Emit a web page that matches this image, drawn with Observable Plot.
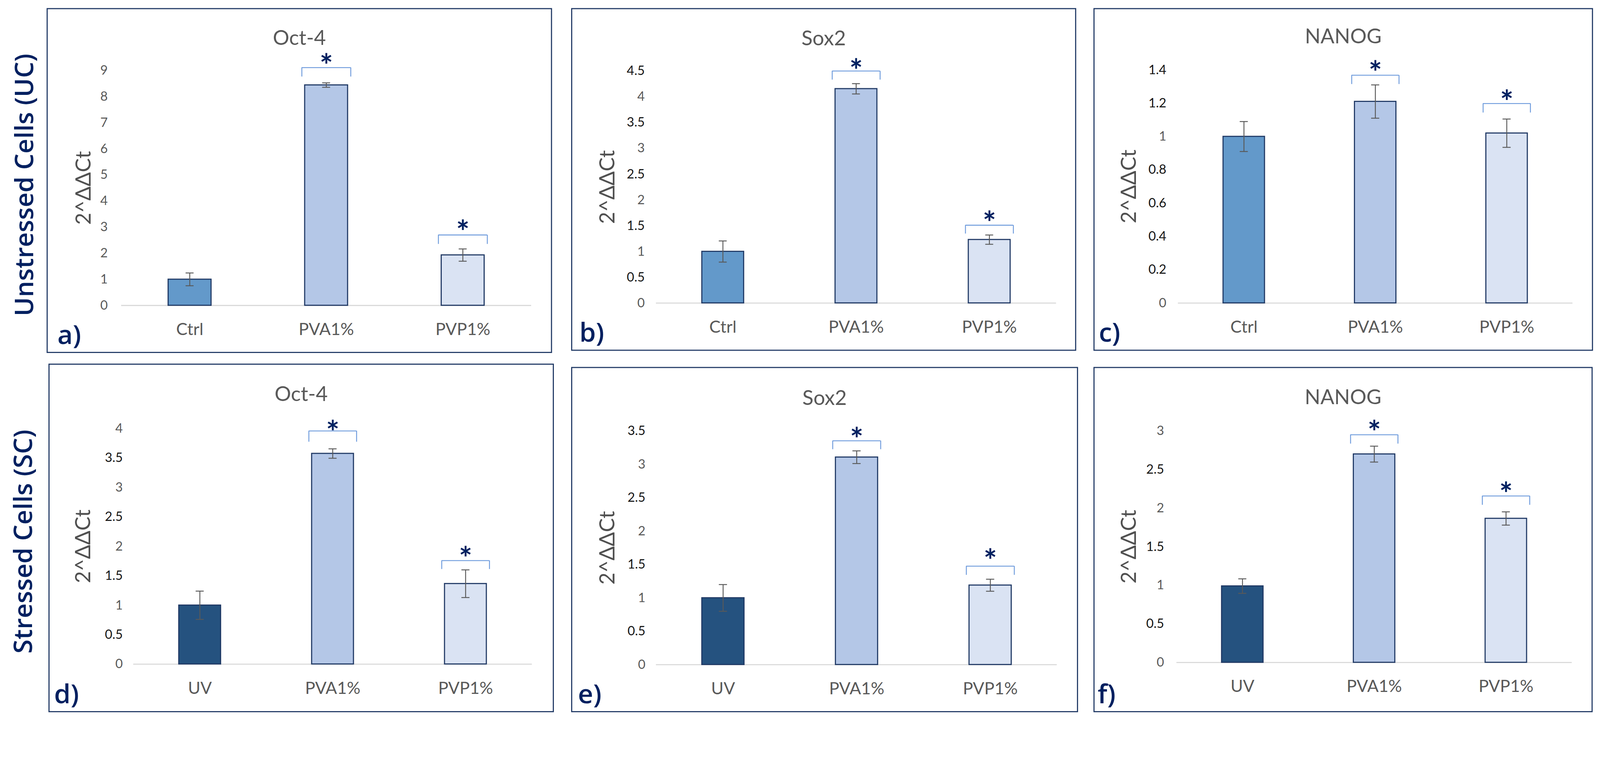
<!DOCTYPE html>
<html>
<head>
<meta charset="utf-8">
<script src="https://cdn.jsdelivr.net/npm/d3@7"></script>
<script src="https://cdn.jsdelivr.net/npm/@observablehq/plot@0.6"></script>
<style>
  html, body { margin: 0; padding: 0; background: #fff; overflow: hidden; }
  #root { position: absolute; left: 0; top: 0; width: 4359px; height: 1977px; background: #fff; overflow: hidden; transform-origin: 0 0; }
  .panel { position: absolute; }
  .panel svg { display: block; max-width: none !important; }
  .frame { position: absolute; box-sizing: border-box; border: 3px solid #1F3864; pointer-events: none; }
  .rowlabel { position: absolute; font-family: "Open Sans", sans-serif; font-weight: 600; color: #002060; font-size: 70px;
              white-space: nowrap; line-height: 1; transform: translate(-50%, -50%) rotate(-90deg); }
</style>
</head>
<body>
<div id="root"></div>
<script>
// ---------------- data ----------------
const genes = ["Oct-4", "Sox2", "NANOG"];
const rowLabels = ["Unstressed Cells (UC)", "Stressed Cells (SC)"];
const panelLetters = ["a)", "b)", "c)", "d)", "e)", "f)"];
const ucGroups = ["Ctrl", "PVA1%", "PVP1%"];
const scGroups = ["UV", "PVA1%", "PVP1%"];
const sigGroups = ["PVA1%", "PVP1%"];
const yLabel = "2^ΔΔCt";
const starText = "*";

// Unstressed cells (UC)
const octUC = [1.0, 8.44, 1.93];
const octUCErr = [0.245, 0.085, 0.235];
const sox2UC = [1.0, 4.155, 1.23];
const sox2UCErr = [0.205, 0.10, 0.09];
const nanogUC = [1.0, 1.21, 1.02];
const nanogUCErr = [0.09, 0.10, 0.085];

// Stressed cells (SC)
const octSC = [1.0, 3.576, 1.366];
const octSCErr = [0.24, 0.08, 0.235];
const sox2SC = [1.0, 3.107, 1.19];
const sox2SCErr = [0.20, 0.095, 0.09];
const nanogSC = [0.99, 2.70, 1.866];
const nanogSCErr = [0.094, 0.103, 0.086];

// significance brackets (top, leg bottom) and asterisk levels, for PVA1% and PVP1%
const octUCBracket = [9.11, 2.70];   const octUCBracketLow = [8.76, 2.35];   const octUCStar = [9.41, 3.03];
const sox2UCBracket = [4.50, 1.51];  const sox2UCBracketLow = [4.33, 1.345]; const sox2UCStar = [4.62, 1.668];
const nanogUCBracket = [1.368, 1.198]; const nanogUCBracketLow = [1.314, 1.143]; const nanogUCStar = [1.419, 1.242];
const octSCBracket = [3.96, 1.758];  const octSCBracketLow = [3.774, 1.612]; const octSCStar = [4.036, 1.895];
const sox2SCBracket = [3.352, 1.475]; const sox2SCBracketLow = [3.224, 1.343]; const sox2SCStar = [3.459, 1.642];
const nanogSCBracket = [2.951, 2.158]; const nanogSCBracketLow = [2.834, 2.041]; const nanogSCStar = [3.056, 2.26];

// y-axis ticks
const octUCTicks = [0, 1, 2, 3, 4, 5, 6, 7, 8, 9];
const sox2UCTicks = [0, 0.5, 1, 1.5, 2, 2.5, 3, 3.5, 4, 4.5];
const nanogUCTicks = [0, 0.2, 0.4, 0.6, 0.8, 1, 1.2, 1.4];
const octSCTicks = [0, 0.5, 1, 1.5, 2, 2.5, 3, 3.5, 4];
const sox2SCTicks = [0, 0.5, 1, 1.5, 2, 2.5, 3, 3.5];
const nanogSCTicks = [0, 0.5, 1, 1.5, 2, 2.5, 3];

// ---------------- styles ----------------
const ucColors = ["#6399CA", "#B4C7E7", "#DAE3F3"];
const scColors = ["#25527F", "#B4C7E7", "#DAE3F3"];
const gray = "#595959";

// ---------------- layout (pixels) ----------------
const layouts = [
  {x: 128,  y: 23,   w: 1374, h: 937, ml: 202, mr: 55, mt: 168.5, mb: 128,   tp: 37, ylx: 100, ty: 80.5, lx: 28},
  {x: 1557, y: 23,   w: 1373, h: 931, ml: 230, mr: 53, mt: 170,   mb: 128.5, tp: 31, ylx: 98,  ty: 81.5, lx: 21},
  {x: 2980, y: 23,   w: 1358, h: 931, ml: 229, mr: 54, mt: 167,   mb: 128.5, tp: 32, ylx: 96,  ty: 77,   lx: 13},
  {x: 133,  y: 992,  w: 1374, h: 947, ml: 230, mr: 58, mt: 175.5, mb: 129.5, tp: 29, ylx: 94,  ty: 83,   lx: 14},
  {x: 1557, y: 1001, w: 1378, h: 938, ml: 230, mr: 56, mt: 173,   mb: 128,   tp: 29, ylx: 98,  ty: 84,   lx: 17},
  {x: 2980, y: 1001, w: 1357, h: 938, ml: 225, mr: 55, mt: 173,   mb: 134,   tp: 34, ylx: 96,  ty: 82,   lx: 10}
];

const panels = [
  {title: genes[0], groups: ucGroups, colors: ucColors, values: octUC,   errs: octUCErr,   top: octUCBracket,   low: octUCBracketLow,   star: octUCStar,   ticks: octUCTicks},
  {title: genes[1], groups: ucGroups, colors: ucColors, values: sox2UC,  errs: sox2UCErr,  top: sox2UCBracket,  low: sox2UCBracketLow,  star: sox2UCStar,  ticks: sox2UCTicks},
  {title: genes[2], groups: ucGroups, colors: ucColors, values: nanogUC, errs: nanogUCErr, top: nanogUCBracket, low: nanogUCBracketLow, star: nanogUCStar, ticks: nanogUCTicks},
  {title: genes[0], groups: scGroups, colors: scColors, values: octSC,   errs: octSCErr,   top: octSCBracket,   low: octSCBracketLow,   star: octSCStar,   ticks: octSCTicks},
  {title: genes[1], groups: scGroups, colors: scColors, values: sox2SC,  errs: sox2SCErr,  top: sox2SCBracket,  low: sox2SCBracketLow,  star: sox2SCStar,  ticks: sox2SCTicks},
  {title: genes[2], groups: scGroups, colors: scColors, values: nanogSC, errs: nanogSCErr, top: nanogSCBracket, low: nanogSCBracketLow, star: nanogSCStar, ticks: nanogSCTicks}
];

const root = document.getElementById("root");
const PAD_INNER = 0.685;

panels.forEach((p, k) => {
  const L = layouts[k];
  const rows = p.groups.map((g, i) => ({group: g, value: p.values[i], err: p.errs[i], color: p.colors[i]}));
  const sig = sigGroups.map((g, i) => ({group: g, top: p.top[i], low: p.low[i], star: p.star[i]}));
  const plotW = L.w - L.ml - L.mr;
  const step = plotW / p.groups.length;
  const bw = step * (1 - PAD_INNER);
  const legOff = bw / 2 + 8;
  const capInset = (bw - 22) / 2;
  const ymax = p.ticks[p.ticks.length - 1];
  const intTicks = p.ticks.filter(t => Number.isInteger(t));
  const fracTicks = p.ticks.filter(t => !Number.isInteger(t));
  const tickOpts = {tickSize: 0, tickPadding: L.tp, fontSize: 35, tickFormat: d => String(d), label: null};
  const bracketColor = "#6E9BDC";

  const svg = Plot.plot({
    width: L.w, height: L.h,
    marginLeft: L.ml, marginRight: L.mr, marginTop: L.mt, marginBottom: L.mb,
    style: {fontFamily: "Lato, sans-serif", background: "transparent", overflow: "visible", color: gray, maxWidth: "none"},
    x: {type: "band", domain: p.groups, paddingInner: PAD_INNER, paddingOuter: PAD_INNER / 2},
    y: {domain: [0, ymax]},
    color: {type: "identity"},
    marks: [
      Plot.ruleY([0], {stroke: "#D9D9D9", strokeWidth: 3}),
      Plot.barY(rows, {x: "group", y: "value", fill: "color", stroke: "#1F3864", strokeWidth: 3}),
      Plot.ruleX(rows, {x: "group", y1: d => d.value - d.err, y2: d => d.value + d.err, stroke: gray, strokeWidth: 2.5}),
      Plot.tickY(rows, {x: "group", y: d => d.value + d.err, insetLeft: capInset, insetRight: capInset, stroke: gray, strokeWidth: 2.5}),
      Plot.tickY(rows, {x: "group", y: d => d.value - d.err, insetLeft: capInset, insetRight: capInset, stroke: gray, strokeWidth: 2.5}),
      Plot.tickY(sig, {x: "group", y: "top", insetLeft: -8, insetRight: -8, stroke: bracketColor, strokeWidth: 2.5}),
      Plot.ruleX(sig, {x: "group", y1: "low", y2: "top", dx: -legOff, stroke: bracketColor, strokeWidth: 2.5}),
      Plot.ruleX(sig, {x: "group", y1: "low", y2: "top", dx: legOff, stroke: bracketColor, strokeWidth: 2.5}),
      Plot.text(sig, {x: "group", y: "star", text: () => starText, fontSize: 86, fontWeight: "bold", fill: "#002060", dy: 19}),
      Plot.axisY(intTicks, {...tickOpts, fill: gray}),
      Plot.axisY(fracTicks, {...tickOpts, fill: "#141414"}),
      Plot.axisX({tickSize: 0, tickPadding: 48, fontSize: 46, fill: gray, label: null}),
      Plot.text([yLabel], {frameAnchor: "left", dx: L.ylx - L.ml, rotate: -90, text: d => d, fontSize: 57, fill: "#505050", textAnchor: "middle", lineAnchor: "middle"}),
      Plot.text([p.title], {frameAnchor: "top-left", dx: L.w / 2 - L.ml, dy: L.ty - L.mt, text: d => d, fontSize: 56, fill: gray, textAnchor: "middle", lineAnchor: "middle"}),
      Plot.text([panelLetters[k]], {frameAnchor: "bottom-left", dx: L.lx - L.ml, dy: L.mb - 46, text: d => d, fontSize: 72, fontWeight: 600, fontFamily: "Open Sans, sans-serif", fill: "#002060", textAnchor: "start", lineAnchor: "middle"})
    ]
  });

  const holder = document.createElement("div");
  holder.className = "panel";
  holder.style.left = L.x + "px";
  holder.style.top = L.y + "px";
  holder.style.width = L.w + "px";
  holder.style.height = L.h + "px";
  holder.appendChild(svg);
  root.appendChild(holder);

  const frame = document.createElement("div");
  frame.className = "frame";
  frame.style.left = (L.x - 1.5) + "px";
  frame.style.top = (L.y - 1.5) + "px";
  frame.style.width = (L.w + 3) + "px";
  frame.style.height = (L.h + 3) + "px";
  root.appendChild(frame);
});

const rowPos = [{cx: 63, cy: 504}, {cx: 60, cy: 1476}];
rowLabels.forEach((t, i) => {
  const d = document.createElement("div");
  d.className = "rowlabel";
  d.textContent = t;
  d.style.left = rowPos[i].cx + "px";
  d.style.top = rowPos[i].cy + "px";
  root.appendChild(d);
});

// fit the 4359x1977 figure into the actual viewport
function fit() {
  const s = Math.min(window.innerWidth / 4359, window.innerHeight / 1977);
  root.style.transform = s < 0.999 || s > 1.001 ? `scale(${s})` : "none";
}
fit();
window.addEventListener("resize", fit);
</script>
</body>
</html>
